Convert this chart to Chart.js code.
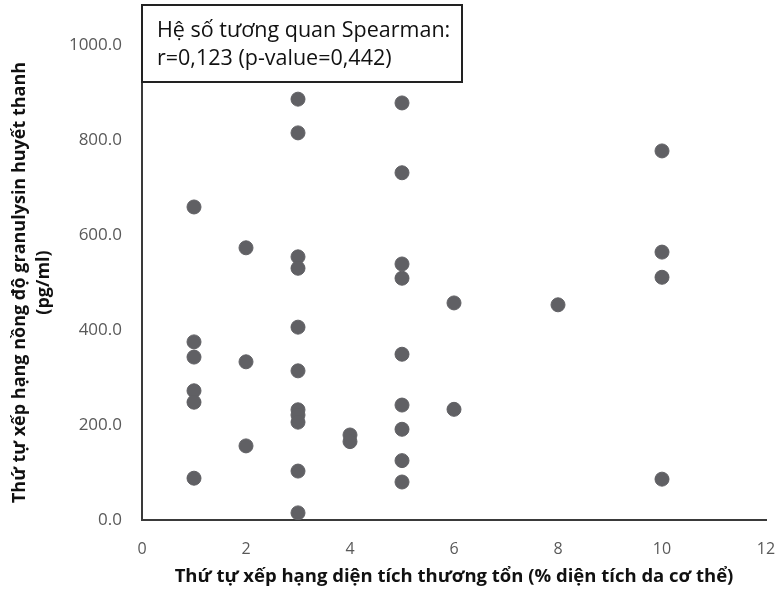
<!DOCTYPE html>
<html>
<head>
<meta charset="utf-8">
<script src="https://cdn.jsdelivr.net/npm/chart.js@4.4.1/dist/chart.umd.min.js"></script>
<style>
  html, body { margin: 0; padding: 0; background: #fff; }
  #wrap { width: 777px; height: 590px; }
</style>
</head>
<body>
<div id="wrap"><canvas id="chart"></canvas></div>
<script>
// rank of lesion area (x) and rank of serum granulysin (y)
const xRank = [1, 1, 1, 1, 1, 1,
               2, 2, 2,
               3, 3, 3, 3, 3, 3, 3, 3, 3, 3, 3,
               4, 4,
               5, 5, 5, 5, 5, 5, 5, 5, 5,
               6, 6,
               8,
               10, 10, 10, 10];
const yValue = [659, 375, 343, 272, 248, 88,
                573, 333, 156,
                886, 815, 554, 530, 406, 314, 232, 221, 206, 103, 15,
                179, 165,
                878, 731, 539, 509, 349, 242, 191, 125, 80,
                457, 233,
                453,
                777, 564, 511, 86];
const xTicks = [0, 2, 4, 6, 8, 10, 12];
const yTicks = [0, 200, 400, 600, 800, 1000];
const boxLines = ['Hệ số tương quan Spearman:', 'r=0,123 (p-value=0,442)'];

const points = xRank.map((x, i) => ({ x: x, y: yValue[i] }));

// text box in the upper-left corner of the plot
const infoBox = {
  id: 'infoBox',
  afterDraw(chart) {
    const ctx = chart.ctx;
    const left = chart.chartArea.left;
    ctx.save();
    ctx.fillStyle = '#fff';
    ctx.fillRect(left, 5, 320, 77);
    ctx.strokeStyle = '#222';
    ctx.lineWidth = 2;
    ctx.strokeRect(left, 5, 320, 77);
    ctx.fillStyle = '#111';
    ctx.font = '21.5px "Open Sans"';
    ctx.textBaseline = 'middle';
    ctx.fillText(boxLines[0], left + 15, 31);
    ctx.fillText(boxLines[1], left + 15, 59);
    ctx.restore();
  }
};

new Chart(document.getElementById('chart'), {
  type: 'scatter',
  data: {
    datasets: [{
      data: points,
      backgroundColor: '#606064',
      borderColor: '#606064',
      pointRadius: 7,
      pointHoverRadius: 7
    }]
  },
  options: {
    responsive: true,
    maintainAspectRatio: false,
    animation: false,
    plugins: { legend: { display: false }, tooltip: { enabled: false } },
    layout: { padding: { top: 45, right: 11, bottom: 0, left: 0 } },
    scales: {
      x: {
        type: 'linear',
        min: 0,
        max: 12,
        afterBuildTicks: (s) => { s.ticks = xTicks.map(v => ({ value: v })); },
        afterFit: (s) => { s.height = 70; s.paddingRight = 0; },
        grid: { drawOnChartArea: false, drawTicks: false },
        border: { display: true, color: '#3a3a3a', width: 2 },
        ticks: { color: '#595959', padding: 20, font: { family: 'Open Sans', size: 16 } },
        title: {
          display: true,
          text: 'Thứ tự xếp hạng diện tích thương tổn (% diện tích da cơ thể)',
          color: '#111',
          padding: { top: 4, bottom: 2 },
          font: { family: 'Open Sans', size: 18.5, weight: 'bold' }
        }
      },
      y: {
        type: 'linear',
        min: 0,
        max: 1000,
        afterBuildTicks: (s) => { s.ticks = yTicks.map(v => ({ value: v })); },
        afterFit: (s) => { s.width = 142; },
        grid: { drawOnChartArea: false, drawTicks: false },
        border: { display: true, color: '#3a3a3a', width: 2 },
        ticks: {
          color: '#595959',
          padding: 20,
          font: { family: 'Open Sans', size: 17 },
          callback: (v) => v.toFixed(1)
        },
        title: {
          display: true,
          text: ['Thứ tự xếp hạng nồng độ granulysin huyết thanh', '(pg/ml)'],
          color: '#111',
          padding: { top: 8, bottom: 4 },
          font: { family: 'Open Sans', size: 18, weight: 'bold', lineHeight: 1.33 }
        }
      }
    }
  },
  plugins: [infoBox]
});
</script>
</body>
</html>
